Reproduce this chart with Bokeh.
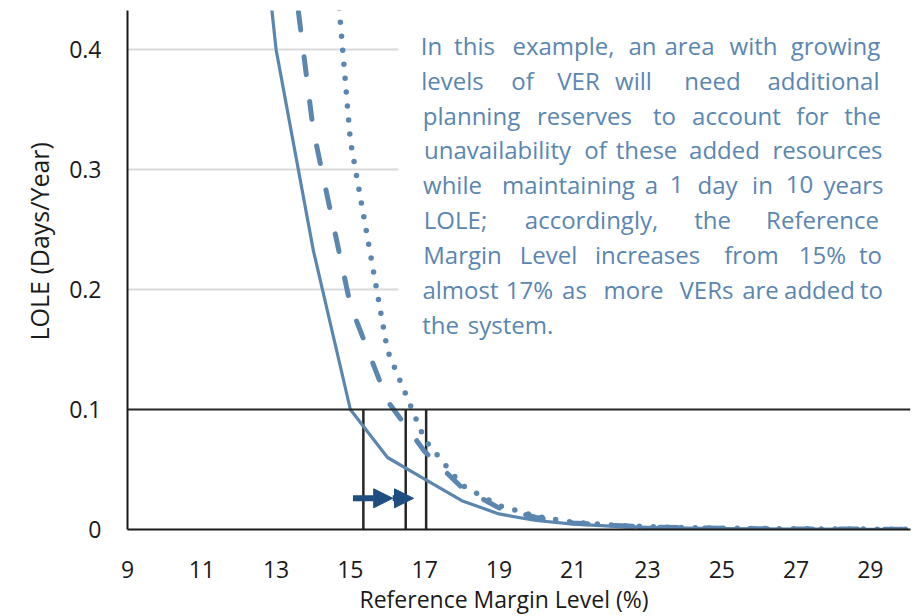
from bokeh.plotting import figure
from bokeh.models import (Range1d, FixedTicker, Span, BoxAnnotation, Arrow, NormalHead, Title)
from bokeh.core.properties import value
from bokeh.embed import file_html
from bokeh.resources import INLINE

# ---------------- data ----------------
margin_levels = list(range(9, 31))  # category axis 9..30

solid_x = [12, 13, 14, 15, 16, 17, 18, 19, 20, 21, 22, 23, 24, 25, 26, 27, 28, 29, 30]
solid_y = [0.69, 0.40, 0.233, 0.100, 0.060, 0.042, 0.024, 0.013, 0.0075, 0.0045, 0.0028,
           0.0018, 0.0012, 0.0008, 0.0006, 0.0004, 0.0003, 0.0002, 0.0002]

dashed_x = [13, 14, 15, 16, 17, 18, 19, 20, 21, 22, 23, 24, 25, 26, 27, 28, 29, 30]
dashed_y = [0.58, 0.333, 0.187, 0.107, 0.065, 0.035, 0.018, 0.010, 0.0055, 0.0035, 0.0022,
            0.0015, 0.0010, 0.0007, 0.0005, 0.0004, 0.0003, 0.0002]

dotted_x = [14, 15, 16, 17, 18, 19, 20, 21, 22, 23, 24, 25, 26, 27, 28, 29, 30]
dotted_y = [0.69, 0.324, 0.149, 0.075, 0.037, 0.020, 0.011, 0.006, 0.0037, 0.0024, 0.0016,
            0.0011, 0.0008, 0.0006, 0.0004, 0.0003, 0.0002]

lole_criterion = 0.1
reference_levels = [15.35, 16.49, 17.04]
arrow_x = [15.07, 16.14, 16.70]
arrow_level = 0.026

x_ticks = [9, 11, 13, 15, 17, 19, 21, 23, 25, 27, 29]
y_ticks = [0, 0.1, 0.2, 0.3, 0.4]
y_tick_labels = {0: "0", 0.1: "0.1", 0.2: "0.2", 0.3: "0.3", 0.4: "0.4"}

x_title = "Reference  Margin Level  (%)"
y_title = "LOLE  (Days/Year)"

note_lines = [
    ["In", "this", "example,", "an", "area", "with", "growing"],
    ["levels", "of", "VER", "will", "need", "additional"],
    ["planning", "reserves", "to", "account", "for", "the"],
    ["unavailability", "of", "these", "added", "resources"],
    ["while", "maintaining", "a", "1", "day", "in", "10", "years"],
    ["LOLE;", "accordingly,", "the", "Reference"],
    ["Margin", "Level", "increases", "from", "15%", "to"],
    ["almost", "17%", "as", "more", "VERs", "are", "added", "to"],
    ["the", "system."],
]
# horizontal word centres (pixels) for the justified text box, and line baselines
note_centres = [
    [431, 474, 563, 642, 689, 753, 835],
    [452, 522, 578, 633, 712, 823],
    [471, 584, 664, 736, 812, 862],
    [497, 595, 646, 724, 827],
    [452, 568, 651, 676, 717, 762, 799, 853],
    [455, 591, 712, 822],
    [462, 548, 647, 751, 822, 870],
    [460, 529, 574, 633, 706, 760, 819, 871],
    [440, 510],
]
note_baselines = [45, 80, 115, 149, 184, 219, 254, 289, 324]

# ---------------- geometry ----------------
W, H = 913, 616
FL, FR, FT, FB = 127, 910, 10, 529
X0, X1 = 9, 30.08
Y0, Y1 = 0, 0.4325


def px2x(px):
    return X0 + (px - FL) * (X1 - X0) / (FR - FL)


def py2y(py):
    return Y0 + (FB - py) * (Y1 - Y0) / (FB - FT)


LINE = "#5b86b0"
TEXT = "#5a86b1"
ARROW = "#1f4e80"
FONT = "Open Sans"

p = figure(width=W, height=H, x_range=Range1d(X0, X1), y_range=Range1d(Y0, Y1),
           output_backend="svg", toolbar_location=None,
           min_border_left=FL, min_border_right=W - FR, min_border_top=FT,
           min_border_bottom=H - FB)
p.outline_line_color = None
p.background_fill_color = "white"
p.border_fill_color = "white"

# axes
for ax in (p.xaxis[0], p.yaxis[0]):
    ax.axis_line_color = "#1a1a1a"
    ax.axis_line_width = 2
    ax.major_tick_line_color = None
    ax.minor_tick_line_color = None
    ax.major_tick_in = 0
    ax.major_tick_out = 0
    ax.major_label_text_font = FONT
    ax.major_label_text_font_size = "23px"
    ax.major_label_text_color = "#1a1a1a"

p.xaxis.ticker = FixedTicker(ticks=x_ticks)
p.xaxis.major_label_standoff = 31
p.yaxis.ticker = FixedTicker(ticks=y_ticks)
p.yaxis.major_label_overrides = y_tick_labels
p.yaxis.major_label_standoff = 26

p.xgrid.visible = False
p.ygrid.ticker = FixedTicker(ticks=[0.2, 0.3, 0.4])
p.ygrid.grid_line_color = "#d9d9d9"
p.ygrid.grid_line_width = 2

# axis titles (as side titles so that they can be offset like the original)
p.add_layout(Title(text=x_title, align="left", offset=232, text_font=FONT,
                   text_font_size="23px", text_font_style="normal",
                   text_color="#1a1a1a", standoff=0), "below")
p.add_layout(Title(text=y_title, align="left", offset=189, text_font=FONT,
                   text_font_size="25px", text_font_style="normal",
                   text_color="#1a1a1a", standoff=22), "left")

# white text box hiding the grid
box = BoxAnnotation(left=px2x(398), right=X1, bottom=py2y(345), top=py2y(FT + 2),
                    fill_color="white", fill_alpha=1.0, line_color=None, level="underlay")
p.add_layout(box)

# criterion line and reference margin verticals
p.add_layout(Span(location=lole_criterion, dimension="width", line_color="#262626",
                  line_width=2))
p.segment(x0=reference_levels, x1=reference_levels, y0=[0] * 3, y1=[lole_criterion] * 3,
          line_color="#262626", line_width=2.5)

# curves
p.line(solid_x, solid_y, line_color=LINE, line_width=3.2, line_join="round")
p.line(dashed_x, dashed_y, line_color=LINE, line_width=5, line_dash="18 27",
       line_cap="round", line_join="round")
p.line(dotted_x, dotted_y, line_color=LINE, line_width=5.5, line_dash="0 14",
       line_cap="round", line_join="round")

# arrows
for xs, xe in ((arrow_x[0], arrow_x[1]), (arrow_x[1], arrow_x[2])):
    p.add_layout(Arrow(end=NormalHead(size=19, fill_color=ARROW, line_color=ARROW),
                       x_start=xs, y_start=arrow_level, x_end=xe, y_end=arrow_level,
                       line_color=ARROW, line_width=6))

# note text (justified: words placed individually)
wx, wy, wt = [], [], []
for words, centres, base in zip(note_lines, note_centres, note_baselines):
    for w, c in zip(words, centres):
        wx.append(px2x(c))
        wy.append(py2y(base))
        wt.append(w)
p.text(x=wx, y=wy, text=wt, text_font=value(FONT), text_font_size="24px",
       text_color=TEXT, text_align="center", text_baseline="alphabetic")

open("out.html", "w").write(file_html(p, INLINE))
